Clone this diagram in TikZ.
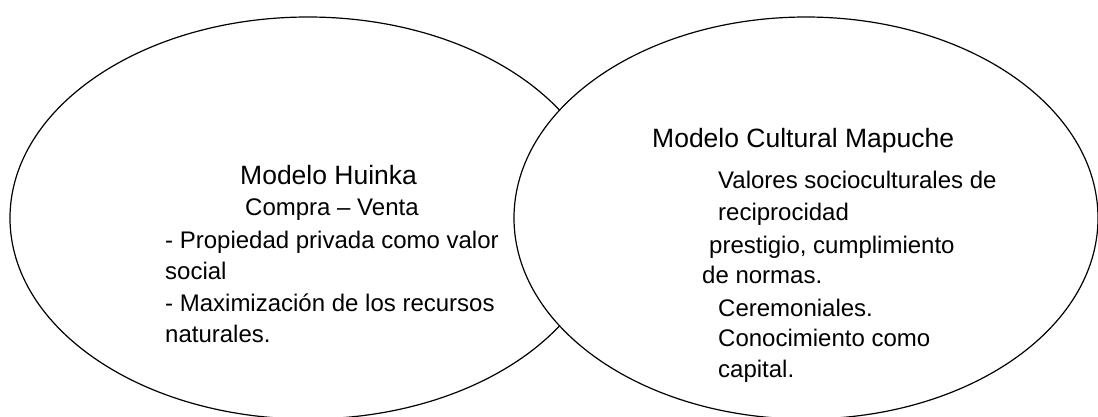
\documentclass[tikz,border=0pt]{standalone}
\usepackage{fontspec}
\setmainfont{Liberation Sans}
\usetikzlibrary{shapes.geometric}
\tikzset{
    modelbox/.style={
        ellipse, draw=black, line width=1.2pt, fill=white,
        minimum width=592pt, minimum height=402pt, inner sep=0pt
    },
    titletext/.style={anchor=base west, inner sep=0pt, font=\fontsize{26.5}{32}\selectfont},
    bodytext/.style={anchor=base west, inner sep=0pt, font=\fontsize{24}{30}\selectfont},
}
\begin{document}
\begin{tikzpicture}[x=1pt, y=-1pt]
                \useasboundingbox (0,0) rectangle (1098,416);
                \clip (0,0) rectangle (1098,416);

                % Ellipses
                \node[modelbox, minimum width=596pt] (huinka) at (308,218) {};
                \node[modelbox, minimum width=584pt] (mapuche) at (806,218) {};

                % Modelo Huinka
                \node[titletext] (htitle) at (240,184) {Modelo Huinka};
                \node[bodytext] (hcompra) at (245,215) {Compra – Venta};
                \node[bodytext] (hprop) at (165,248) {- Propiedad privada como valor};
                \node[bodytext] (hsocial) at (165,279) {social};
                \node[bodytext] (hmax) at (165,311) {- Maximización de los recursos};
                \node[bodytext] (hnat) at (165,342) {naturales.};

                % Modelo Cultural Mapuche
                \node[titletext] (mtitle) at (652,147) {Modelo Cultural Mapuche};
                \node[bodytext] (mval) at (718,188) {Valores socioculturales de};
                \node[bodytext] (mrec) at (718,220) {reciprocidad};
                \node[bodytext] (mpres) at (709,253) {prestigio, cumplimiento};
                \node[bodytext] (mnorm) at (702,283) {de normas.};
                \node[bodytext] (mcer) at (718,316) {Ceremoniales.};
                \node[bodytext] (mcon) at (718,346) {Conocimiento como};
                \node[bodytext] (mcap) at (718,377) {capital.};
            \end{tikzpicture}
\end{document}
